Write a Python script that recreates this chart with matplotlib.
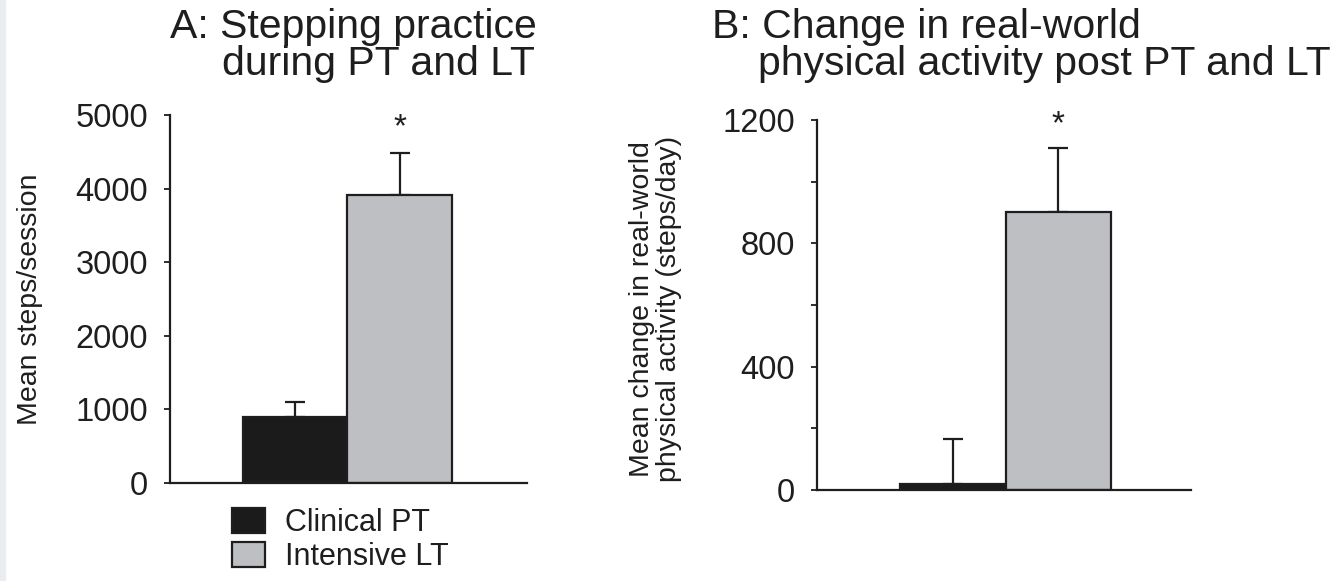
import numpy as np
import matplotlib.pyplot as plt
from matplotlib.patches import Rectangle

# Datos
groups = ["Clinical PT", "Intensive LT"]
colors = ["#1b1b1b", "#bebfc3"]

steps_mean = [897, 3910]      # panel A: pasos por sesión
steps_err = [203, 572]
change_mean = [20, 902]       # panel B: cambio en pasos/día
change_err = [145, 207]

plt.rcParams["font.family"] = ["Liberation Sans", "DejaVu Sans"]
ink = "#1e1e1e"

fig = plt.figure(figsize=(13.34, 5.81), dpi=100)
fig.patches.append(Rectangle((0, 0), 5 / 1334, 1, transform=fig.transFigure,
                             color="#e8edf1", zorder=0))

axA = fig.add_axes([170 / 1334, 1 - 483 / 581, 357 / 1334, 368 / 581])
axB = fig.add_axes([817 / 1334, 1 - 490 / 581, 374 / 1334, 370 / 581])

x = np.arange(len(groups))


def draw(ax, means, errs, ymax, xlim):
    bars = ax.bar(x, means, width=1.0, color=colors, edgecolor=ink,
                  linewidth=1.6, zorder=2)
    ax.errorbar(x, means, yerr=[np.zeros(len(errs)), errs], fmt="none",
                ecolor=ink, elinewidth=1.6, capsize=7, capthick=1.6,
                zorder=1)
    ax.set_xlim(*xlim)
    ax.set_ylim(0, ymax)
    ax.set_xticks([])
    for s in ["top", "right"]:
        ax.spines[s].set_visible(False)
    for s in ["left", "bottom"]:
        ax.spines[s].set_linewidth(1.6)
        ax.spines[s].set_color(ink)
    ax.tick_params(axis="y", labelsize=23.5, length=4, width=1.3,
                   color=ink, labelcolor=ink, pad=12)
    ax.tick_params(axis="y", which="minor", length=4, width=1.3, color=ink)
    return bars


barsA = draw(axA, steps_mean, steps_err, 5000, (-1.2, 2.22))
axA.set_yticks(np.arange(0, 5001, 1000))
axA.set_ylabel("Mean steps/session", fontsize=20.5, color=ink)
axA.yaxis.set_label_coords(-0.356, 0.5)
axA.text(1, 4830, "*", ha="center", va="center", fontsize=24, color=ink)

barsB = draw(axB, change_mean, change_err, 1200, (-1.29, 2.26))
axB.set_yticks([0, 400, 800, 1200])
axB.set_yticks([200, 600, 1000], minor=True)
axB.set_ylabel("Mean change in real-world\nphysical activity (steps/day)",
               fontsize=20.5, color=ink, linespacing=1.05)
axB.yaxis.set_label_coords(-0.361, 0.49)
axB.text(1, 1185, "*", ha="center", va="center", fontsize=24, color=ink)

# Títulos (dos líneas, la segunda con sangría)
tkw = dict(fontsize=29.5, color=ink, va="baseline")
fig.text(170 / 1334, 1 - 38 / 581, "A: Stepping practice", **tkw)
fig.text(222 / 1334, 1 - 75 / 581, "during PT and LT", **tkw)
fig.text(712 / 1334, 1 - 38 / 581, "B: Change in real-world", **tkw)
fig.text(758 / 1334, 1 - 75 / 581, "physical activity post PT and LT", **tkw)

fig.legend(barsA, groups, loc="upper left",
           bbox_to_anchor=(232 / 1334, 1 - 508 / 581),
           frameon=False, fontsize=22, handlelength=1.08, handleheight=0.88,
           handletextpad=0.65, labelspacing=0.12, borderaxespad=0,
           borderpad=0, labelcolor=ink)

fig.savefig("out.png", dpi=100)
